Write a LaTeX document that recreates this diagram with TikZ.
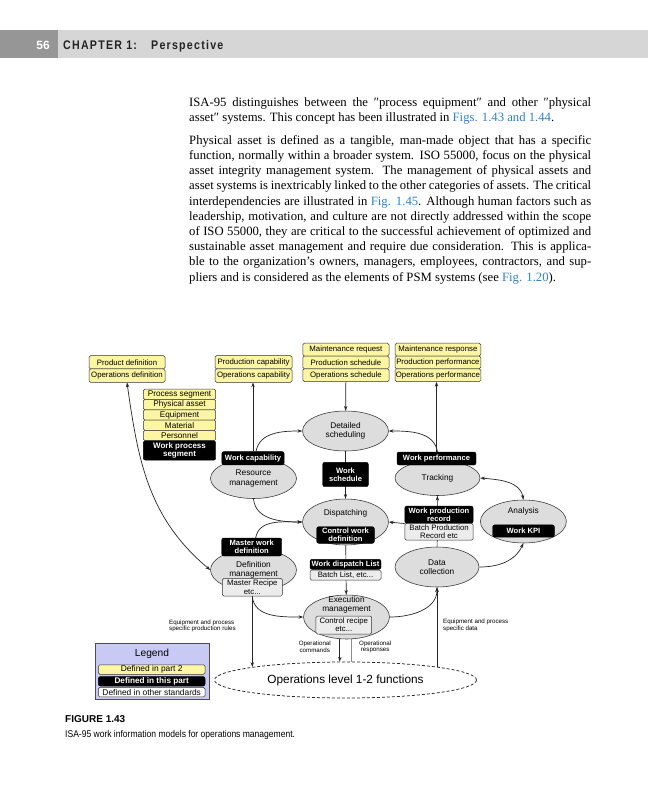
\documentclass[tikz,border=0pt]{standalone}
\usepackage{fontspec}
\setmainfont{Liberation Serif}
\newfontfamily\dsans{Liberation Sans}
\newfontfamily\csans[FakeStretch=0.87]{Liberation Sans}
\newfontfamily\hsans[FakeStretch=0.85,LetterSpace=10]{Liberation Sans}
\usetikzlibrary{arrows.meta,shapes.geometric}
\pgfdeclarelayer{bg}
\pgfsetlayers{bg,main}
\newcommand\dgf{\dsans\fontsize{7.8}{8.2}\selectfont}
\newcommand\dgk{\dsans\fontsize{8.2}{8.6}\selectfont}
\newcommand\dge{\dsans\fontsize{8.3}{9.2}\selectfont}
\newcommand\dgb{\dsans\bfseries\fontsize{7.6}{8.1}\selectfont}
\newcommand\dgs{\dsans\fontsize{6.2}{6.5}\selectfont}
\newcommand\dgl{\dsans\fontsize{8.4}{8.6}\selectfont}
\newcommand\bodyf{\fontsize{12.7}{15.2}\selectfont}
\newcommand\lk[1]{\textcolor{lnk}{#1}}
\newcommand\bl[1]{\makebox[402pt][s]{#1}}
\definecolor{ylw}{RGB}{252,246,162}
\definecolor{ellc}{RGB}{221,221,221}
\definecolor{lav}{RGB}{201,201,246}
\definecolor{oth}{RGB}{236,236,236}
\definecolor{lnk}{RGB}{52,128,196}
\definecolor{barl}{RGB}{214,214,214}
\definecolor{bard}{RGB}{150,150,150}
\definecolor{hdtx}{RGB}{35,35,35}
\begin{document}
\begin{tikzpicture}[x=1pt,y=-1pt,
  body/.style={anchor=base west, inner sep=0pt, font=\bodyf},
  ybox/.style={rectangle, draw=black!80, fill=ylw, rounded corners=1.5pt, inner sep=0pt, line width=0.5pt, font=\dgf},
  kbox/.style={rectangle, draw=black, fill=black, text=white, rounded corners=2pt, inner sep=0pt, align=center, font=\dgb},
  obox/.style={rectangle, draw=black!80, fill=oth, rounded corners=1.5pt, inner sep=0pt, line width=0.5pt, align=center, font=\dgf},
  ell/.style={ellipse, draw=black!80, fill=ellc, inner sep=0pt, line width=0.55pt, align=center, font=\dge},
  etxt/.style={inner sep=0pt, align=center, font=\dge},
  lbl/.style={inner sep=0pt, align=left, font=\dgs},
  conn/.style={draw=black!85, line width=0.7pt, -{Stealth[length=4.8pt,width=3.4pt]}},
  both/.style={draw=black!85, line width=0.7pt, {Stealth[length=4.8pt,width=3.4pt]}-{Stealth[length=4.8pt,width=3.4pt]}},
  resp/.style={draw=black!45, line width=1.1pt, -{Stealth[length=4.8pt,width=3.8pt]}},
  hdr/.style={anchor=base west, inner sep=0pt, text=hdtx, font=\hsans\bfseries\fontsize{12.5}{12.5}\selectfont}
]
\useasboundingbox (0,0) rectangle (648,800);
\begin{pgfonlayer}{bg}
\fill[white] (0,0) rectangle (648,800);
\end{pgfonlayer}
% header
\fill[barl] (0,30) rectangle (648,58);
\fill[bard] (0,30) rectangle (58,58);
\node[anchor=base east, inner sep=0pt, text=white, font=\dsans\bfseries\fontsize{12}{12}\selectfont] (pgn) at (50,49) {56};
\node[hdr] (chap) at (63,49) {CHAPTER 1:};
\node[hdr] (persp) at (151,49) {Perspective};
% body text
\node[body] (t1) at (189,106.5) {\bl{ISA-95 distinguishes between the ″process equipment″ and other ″physical}};
\node[body] (t2) at (189,121.7) {asset″ systems. This concept has been illustrated in \lk{Figs. 1.43 and 1.44}.};
\node[body] (t3) at (189,144.2) {\bl{Physical asset is defined as a tangible, man-made object that has a specific}};
\node[body] (t4) at (189,159.4) {\bl{function, normally within a broader system. ISO 55000, focus on the physical}};
\node[body] (t5) at (189,174.6) {\bl{asset integrity management system. The management of physical assets and}};
\node[body] (t6) at (189,189.8) {\bl{asset systems is inextricably linked to the other categories of assets. The critical}};
\node[body] (t7) at (189,205) {\bl{interdependencies are illustrated in \lk{Fig. 1.45}. Although human factors such as}};
\node[body] (t8) at (189,220.2) {\bl{leadership, motivation, and culture are not directly addressed within the scope}};
\node[body] (t9) at (189,235.4) {\bl{of ISO 55000, they are critical to the successful achievement of optimized and}};
\node[body] (t10) at (189,250.6) {\bl{sustainable asset management and require due consideration. This is applica-}};
\node[body] (t11) at (189,265.8) {\bl{ble to the organization’s owners, managers, employees, contractors, and sup-}};
\node[body] (t12) at (189,281) {pliers and is considered as the elements of PSM systems (see \lk{Fig. 1.20}).};
% top yellow boxes
\node[ybox, minimum width=76pt, minimum height=13.3pt] (pd1) at (127,362.3) {Product definition};
\node[ybox, minimum width=76pt, minimum height=13.3pt] (pd2) at (127,375.6) {Operations definition};
\node[ybox, minimum width=77pt, minimum height=13.3pt] (pc1) at (253.5,362.3) {Production capability};
\node[ybox, minimum width=77pt, minimum height=13.3pt] (pc2) at (253.5,375.6) {Operations capability};
\node[ybox, minimum width=86.3pt, minimum height=12.8pt] (mreq) at (345.9,349.6) {Maintenance request};
\node[ybox, minimum width=86.3pt, minimum height=12.8pt] (psch) at (345.9,362.4) {Production schedule};
\node[ybox, minimum width=86.3pt, minimum height=12.8pt] (osch) at (345.9,375.2) {Operations schedule};
\node[ybox, minimum width=85.7pt, minimum height=12.8pt] (mres) at (437.9,349.6) {Maintenance response};
\node[ybox, minimum width=85.7pt, minimum height=12.8pt] (pperf) at (437.9,362.4) {Production performance};
\node[ybox, minimum width=85.7pt, minimum height=12.8pt] (operf) at (437.9,375.2) {Operations performance};
% process segment stack
\node[ybox, font=\dgk, minimum width=72.4pt, minimum height=10.3pt] (pseg) at (179.5,394.3) {Process segment};
\node[ybox, font=\dgk, minimum width=72.4pt, minimum height=10.3pt] (passet) at (179.5,404.6) {Physical asset};
\node[ybox, font=\dgk, minimum width=72.4pt, minimum height=10.3pt] (equip) at (179.5,414.9) {Equipment};
\node[ybox, font=\dgk, minimum width=72.4pt, minimum height=10.3pt] (matl) at (179.5,425.2) {Material};
\node[ybox, font=\dgk, minimum width=72.4pt, minimum height=10.3pt] (pers) at (179.5,435.5) {Personnel};
\node[kbox, font=\dsans\bfseries\fontsize{8}{8.4}\selectfont, minimum width=72.4pt, minimum height=19.3pt] (wps) at (179.5,450.5) {Work process\\segment};
% ellipses
\node[ell, minimum width=86pt, minimum height=40pt] (ds) at (345.5,431) {Detailed\\scheduling};
\node[ell, minimum width=86pt, minimum height=40pt] (rm) at (253.5,478.5) {Resource\\management};
\node[ell, minimum width=85pt, minimum height=35pt] (tr) at (437.5,478) {Tracking};
\node[ell, minimum width=86pt, minimum height=43pt] (an) at (523.4,521.5) {};
\node[ell, minimum width=84pt, minimum height=40pt] (dc) at (437,567) {Data\\collection};
\node[ell, minimum width=86pt, minimum height=46pt] (dp) at (345.5,522) {};
\node[ell, minimum width=86pt, minimum height=42pt] (dm) at (253.5,570) {Definition\\management};
\node[ell, minimum width=86pt, minimum height=44pt] (em) at (346.5,617) {};
\node[etxt] (ant) at (523.4,511.7) {Analysis};
\node[etxt] (dpt) at (345.5,513.3) {Dispatching};
\node[etxt] (emt) at (346.5,604.5) {Execution\\management};
% black labels and other-standard boxes
\node[kbox, minimum width=62.3pt, minimum height=13.3pt] (wc) at (253,458.3) {Work capability};
\node[kbox, minimum width=79pt, minimum height=13pt] (wp) at (436.5,458.5) {Work performance};
\node[kbox, minimum width=45.6pt, minimum height=24.4pt] (ws) at (345.5,474.5) {Work\\schedule};
\node[kbox, minimum width=61.6pt, minimum height=12.3pt] (kpi) at (523.5,531) {Work KPI};
\node[kbox, minimum width=57.6pt, minimum height=16.6pt] (cwd) at (345.5,535) {Control work\\definition};
\node[kbox, minimum width=60pt, minimum height=18pt] (mwd) at (251.7,547) {Master work\\definition};
\node[kbox, minimum width=71pt, minimum height=10pt] (wdl) at (345.5,564.3) {Work dispatch List};
\node[obox, minimum width=71pt, minimum height=10pt] (bls) at (345.5,575) {Batch List, etc...};
\node[kbox, minimum width=68.3pt, minimum height=17.3pt] (wpr) at (439,514.7) {Work production\\record};
\node[obox, minimum width=68.3pt, minimum height=16.7pt] (bpr) at (439,531.7) {Batch Production\\Record etc};
\node[obox, minimum width=60pt, minimum height=17.7pt] (mrc) at (252.3,587.2) {Master Recipe\\etc...};
\node[obox, minimum width=55.7pt, minimum height=18pt] (cr) at (343.8,625) {Control recipe\\etc...};
% operations level
\node[ellipse, draw=black!85, dash pattern=on 3pt off 2pt, line width=0.75pt, minimum width=262pt, minimum height=36pt, inner sep=0pt, font=\dsans\fontsize{11.8}{12}\selectfont] (ops) at (345.5,680) {Operations level 1-2 functions};
% labels
\node[lbl, anchor=west] (rules) at (169,626) {Equipment and process\\specific production rules};
\node[lbl, anchor=west] (sdata) at (443,625.5) {Equipment and process\\specific data};
\node[lbl, anchor=east, align=center] (cmds) at (331,646.7) {Operational\\commands};
\node[lbl, anchor=west, align=center] (resps) at (359,646.7) {Operational\\responses};
% legend
\node[draw=black!70, fill=lav, minimum width=114.3pt, minimum height=56.6pt, inner sep=0pt] (leg) at (152.2,671) {};
\node[inner sep=0pt, font=\dsans\fontsize{10.2}{10.5}\selectfont] (legt) at (152,653.5) {Legend};
\node[ybox, font=\dgl, minimum width=106.7pt, minimum height=9.5pt] (lg1) at (151.7,669.5) {Defined in part 2};
\node[kbox, font=\dsans\bfseries\fontsize{8.2}{8.4}\selectfont, minimum width=106.7pt, minimum height=9.5pt] (lg2) at (151.7,681.3) {Defined in this part};
\node[obox, fill=white, font=\dgl, minimum width=106.7pt, minimum height=9.5pt] (lg3) at (151.7,692.2) {Defined in other standards};
% caption
\node[anchor=base west, inner sep=0pt, font=\dsans\bfseries\fontsize{10}{10}\selectfont] (figl) at (65,722) {FIGURE 1.43};
\node[anchor=base west, inner sep=0pt, font=\csans\fontsize{9.8}{10}\selectfont] (figc) at (65,737) {ISA-95 work information models for operations management.};
% connectors
\begin{pgfonlayer}{bg}
\draw[conn] (osch) -- (ds);
\draw[conn] (wp.north) -- (wp.north |- operf.south);
\draw[conn] (wc.north) -- (wc.north |- pc2.south);
\draw[conn] ([xshift=3pt]wc.north) to[out=80,in=180] (ds.west);
\draw[conn] ([xshift=1pt]wp.north) to[out=100,in=0] (ds.east);
\draw[conn] (rm.south) to[out=-85,in=180] (dp.west);
\draw[conn] ([xshift=4pt]mwd.north) to[out=80,in=180] (dp.west);
\draw[both] (pd2.south) to[out=-82,in=140] (dm.west);
\draw[conn] (mrc.south) to[out=-85,in=180] (em.west);
\draw[conn] (mrc.south) -- (mrc.south |- ops.172);
\draw[conn] (ds) -- (dp);
\draw[conn] (dp) -- (em);
\draw[conn] (wpr.south west) -- (dp.east);
\draw[conn] (dc) -- (tr);
\draw[both] (tr.east) to[out=-5,in=100] (an.north);
\draw[conn] (dc.east) to[out=0,in=-115] (an.south);
\draw[conn] (em.east) to[out=0,in=-90] (dc.south);
\draw[conn] (dc.south |- ops.8) -- (dc.south);
\draw[conn] ([xshift=-4pt]cr.south) -- ([xshift=-4pt]cr.south |- ops.north);
\draw[resp] ([xshift=8pt]cr.south |- ops.north) -- ([xshift=8pt]cr.south);
\end{pgfonlayer}
\end{tikzpicture}
\end{document}
